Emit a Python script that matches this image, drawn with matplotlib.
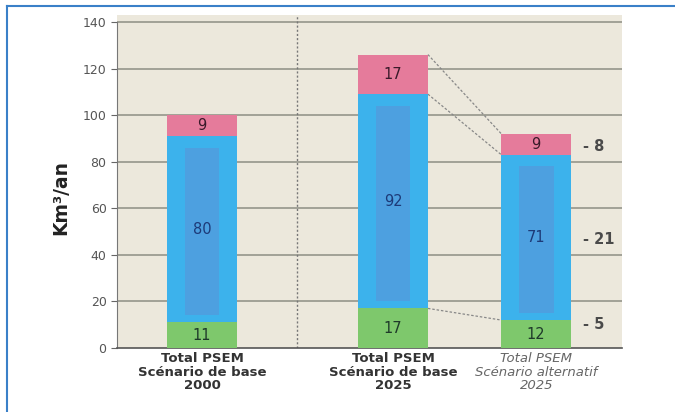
#!/usr/bin/env python3
import matplotlib
matplotlib.use("Agg")
import matplotlib.pyplot as plt
from matplotlib.lines import Line2D

# data
categories = ["Total PSEM\nScénario de base\n2000",
              "Total PSEM\nScénario de base\n2025",
              "Total PSEM\nScénario alternatif\n2025"]
green_vals = [11, 17, 12]
blue_vals = [80, 92, 71]
pink_vals = [9, 17, 9]
diff_labels = ["- 5", "- 21", "- 8"]
yticks = [0, 20, 40, 60, 80, 100, 120, 140]


def main():
    fig = plt.figure(figsize=(6.75, 4.12), dpi=100)
    ax = fig.add_axes([117 / 675, 1 - 348 / 412, 505 / 675, (348 - 15) / 412])
    ax.set_facecolor("#ece8dc")

    xpos = [0, 1, 1.75]
    width = 0.366

    for y in yticks[1:]:
        ax.axhline(y, color="#8e8e84", lw=1.1, zorder=1)
    ax.axvline(0.497, color="#777777", lw=1.0, ls=(0, (1.5, 1.5)), zorder=1)

    bottoms_blue = green_vals
    bottoms_pink = [g + b for g, b in zip(green_vals, blue_vals)]
    ax.bar(xpos, green_vals, width, color="#7ec86c", zorder=3)
    ax.bar(xpos, blue_vals, width, bottom=bottoms_blue, color="#3cb2ec", zorder=3)
    ax.bar(xpos, pink_vals, width, bottom=bottoms_pink, color="#e57b9b", zorder=3)
    # darker inner panel in the blue part
    inner_h = [b - 8 for b in blue_vals]
    ax.bar(xpos, inner_h, width * 0.5, bottom=[g + 3 for g in green_vals],
           color="#4da0e0", zorder=4)

    for x, g, b, p in zip(xpos, green_vals, blue_vals, pink_vals):
        ax.text(x, g / 2, str(g), ha="center", va="center", fontsize=10.5,
                color="#1f3a2a", zorder=5)
        ax.text(x, g + b / 2, str(b), ha="center", va="center", fontsize=10.5,
                color="#1d3a78", zorder=5)
        ax.text(x, g + b + p / 2, str(p), ha="center", va="center", fontsize=10.5,
                color="#3a1a2a", zorder=5)

    # dotted links between base 2025 and alternative 2025
    x1 = xpos[1] + width / 2
    x2 = xpos[2] - width / 2
    tops1 = [green_vals[1], bottoms_pink[1], bottoms_pink[1] + pink_vals[1]]
    tops2 = [green_vals[2], bottoms_pink[2], bottoms_pink[2] + pink_vals[2]]
    for a, b in zip(tops1, tops2):
        ax.plot([x1, x2], [a, b], color="#888888", lw=0.9, ls=(0, (2, 1.5)), zorder=2)

    # differences
    mids = [green_vals[2] * 0.85, green_vals[2] + blue_vals[2] / 2 - 1,
            bottoms_pink[2] + pink_vals[2] / 2 - 1]
    for m, lab in zip(mids, diff_labels):
        ax.text(xpos[2] + width / 2 + 0.06, m, lab, ha="left", va="center",
                fontsize=10.5, fontweight="bold", color="#4a4a4a")

    ax.set_xlim(-0.445, 2.199)
    ax.set_ylim(0, 143)
    ax.set_yticks(yticks)
    ax.set_yticklabels([str(t) for t in yticks], color="#555555", fontsize=9)
    ax.tick_params(axis="y", length=4, color="#666666")
    ax.set_xticks(xpos)
    ax.set_xticklabels(categories, fontsize=9.5, linespacing=1.05)
    ax.tick_params(axis="x", length=0, pad=3)
    labels = ax.get_xticklabels()
    for lab in labels[:2]:
        lab.set_fontweight("bold")
        lab.set_color("#333333")
    labels[2].set_fontstyle("italic")
    labels[2].set_color("#666666")

    for side in ["top", "right"]:
        ax.spines[side].set_visible(False)
    ax.spines["left"].set_color("#777777")
    ax.spines["left"].set_bounds(0, 140)
    ax.spines["bottom"].set_color("#555555")
    ax.spines["bottom"].set_linewidth(1.2)

    ax.set_ylabel("Km³/an", fontsize=13.5, fontweight="bold", color="#222222")
    ax.yaxis.set_label_coords(-0.093, 0.453)

    # blue frame around the figure
    fig.add_artist(Line2D([7 / 675, 1], [1 - 6 / 412, 1 - 6 / 412],
                          transform=fig.transFigure, color="#3a80c8", lw=1.5))
    fig.add_artist(Line2D([7 / 675, 7 / 675], [0, 1 - 6 / 412],
                          transform=fig.transFigure, color="#3a80c8", lw=1.5))

    fig.savefig("out.png", dpi=100)


if __name__ == "__main__":
    main()
